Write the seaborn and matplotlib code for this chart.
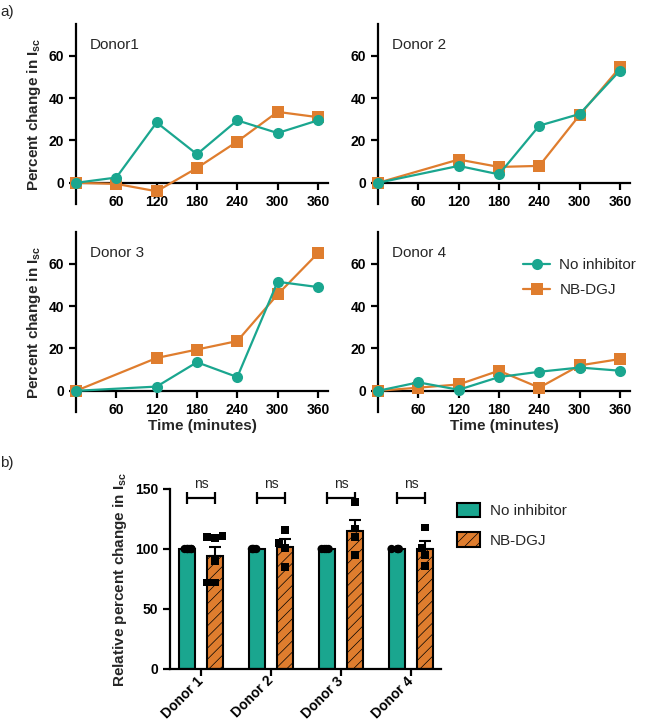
import numpy as np
import pandas as pd
import matplotlib
matplotlib.use("Agg")
import matplotlib.pyplot as plt
import seaborn as sns
from matplotlib.patches import Patch
from matplotlib.lines import Line2D

# ---------------- data ----------------
times = [0, 60, 120, 180, 240, 300, 360]
groups = ["No inhibitor", "NB-DGJ"]
donor_titles = ["Donor1", "Donor 2", "Donor 3", "Donor 4"]

d1_no = [0, 2.5, 28.5, 13.5, 29.5, 23.5, 29.5]
d1_nb = [0, -0.5, -4, 7, 19.5, 33.5, 31]
d2_no = [0, np.nan, 8, 4, 27, 32.5, 53]
d2_nb = [0, np.nan, 11, 7.5, 8, 32, 54.5]
d3_no = [0, np.nan, 2, 13.5, 6.5, 51.5, 49]
d3_nb = [0, np.nan, 15.5, 19.5, 23.5, 45.5, 65]
d4_no = [0, 4, 0.5, 6.5, 9, 11, 9.5]
d4_nb = [0, 1.5, 3, 9.5, 1.5, 12, 15]

bar_donors = ["Donor 1", "Donor 2", "Donor 3", "Donor 4"]
nb_points_d1 = [111, 109, 110, 90, 72, 72]
nb_points_d2 = [116, 105, 101, 85]
nb_points_d3 = [139, 117, 110, 95]
nb_points_d4 = [118, 101, 95, 86]
no_inhibitor_value = 100
sig_labels = ["ns", "ns", "ns", "ns"]

# ---------------- style ----------------
sns.set_theme(style="ticks")
plt.rcParams["font.family"] = ["Liberation Sans", "DejaVu Sans"]
plt.rcParams["mathtext.fontset"] = "custom"
plt.rcParams["mathtext.rm"] = "Liberation Sans"
plt.rcParams["mathtext.bf"] = "Liberation Sans:bold"
plt.rcParams["hatch.linewidth"] = 0.5

TEAL = "#1AA68F"
ORANGE = "#DF7D2E"
palette = {"No inhibitor": TEAL, "NB-DGJ": ORANGE}

fig = plt.figure(figsize=(6.5, 7.23), dpi=100)

W = 252 / 650
H = 180 / 723
positions = [
    (76 / 650, 1 - 204 / 723),
    (378 / 650, 1 - 204 / 723),
    (76 / 650, 1 - 412 / 723),
    (378 / 650, 1 - 412 / 723),
]
series = [(d1_no, d1_nb), (d2_no, d2_nb), (d3_no, d3_nb), (d4_no, d4_nb)]

ylab = r"Percent change in I$_\mathbf{sc}$"

axes = []
for i, ((no, nb), pos) in enumerate(zip(series, positions)):
    ax = fig.add_axes([pos[0], pos[1], W, H])
    axes.append(ax)
    df = pd.DataFrame({
        "time": times * 2,
        "value": list(no) + list(nb),
        "group": ["No inhibitor"] * len(times) + ["NB-DGJ"] * len(times),
    }).dropna()
    sns.lineplot(data=df, x="time", y="value", hue="group", style="group",
                 hue_order=groups, style_order=groups, palette=palette,
                 markers={"No inhibitor": "o", "NB-DGJ": "s"}, dashes=False,
                 markersize=8, markeredgewidth=0, linewidth=1.6, ax=ax,
                 legend=False, clip_on=False)
    for ln in ax.lines:
        c = matplotlib.colors.to_hex(ln.get_color())
        ln.set_zorder(4 if c.lower() == TEAL.lower() else 3)
        ln.set_clip_on(False)
    ax.set_xlim(0, 375)
    ax.set_ylim(-10, 75)
    ax.set_xticks([60, 120, 180, 240, 300, 360])
    ax.set_yticks([0, 20, 40, 60])
    ax.spines["top"].set_visible(False)
    ax.spines["right"].set_visible(False)
    ax.spines["bottom"].set_position(("data", 0))
    for s in ["left", "bottom"]:
        ax.spines[s].set_linewidth(1.6)
        ax.spines[s].set_color("black")
    ax.tick_params(axis="both", width=1.6, length=5, labelsize=10, colors="black")
    for lab in ax.get_xticklabels() + ax.get_yticklabels():
        lab.set_fontweight("bold")
    ax.text(21, 65, donor_titles[i], fontsize=11, va="center", ha="left")
    if i in (0, 2):
        ax.set_ylabel(ylab, fontsize=11, fontweight="bold", labelpad=4)
    else:
        ax.set_ylabel("")
    if i in (2, 3):
        ax.set_xlabel("Time (minutes)", fontsize=11, fontweight="bold", labelpad=2)
    else:
        ax.set_xlabel("")

handles = [
    Line2D([], [], color=TEAL, marker="o", markersize=8, linewidth=1.6, markeredgewidth=0),
    Line2D([], [], color=ORANGE, marker="s", markersize=8, linewidth=1.6, markeredgewidth=0),
]
axes[3].legend(handles, groups, loc="upper left", bbox_to_anchor=(0.52, 0.93),
               frameon=False, fontsize=11, handlelength=1.8, handletextpad=0.6,
               labelspacing=0.7)

fig.text(0.0, 1 - 12 / 723, "a)", fontsize=11, va="center", ha="left")
fig.text(0.0, 1 - 463 / 723, "b)", fontsize=11, va="center", ha="left")

# ---------------- bar chart ----------------
nb_lists = [nb_points_d1, nb_points_d2, nb_points_d3, nb_points_d4]
rows = []
for d, pts in zip(bar_donors, nb_lists):
    for v in pts:
        rows.append((d, "No inhibitor", no_inhibitor_value))
    for v in pts:
        rows.append((d, "NB-DGJ", v))
bdf = pd.DataFrame(rows, columns=["donor", "group", "value"])

axb = fig.add_axes([170 / 650, 1 - 669 / 723, 271 / 650, 180 / 723])
sns.barplot(data=bdf, x="donor", y="value", hue="group", hue_order=groups,
            order=bar_donors, palette=palette, errorbar=None, width=0.8, gap=0.4,
            saturation=1, edgecolor="black", linewidth=1.5, ax=axb, legend=False,
            zorder=2)
for p in axb.patches:
    fc = matplotlib.colors.to_hex(p.get_facecolor())
    if fc.lower() == ORANGE.lower():
        p.set_hatch("///")

for i, (d, pts) in enumerate(zip(bar_donors, nb_lists)):
    m = np.mean(pts)
    se = np.std(pts, ddof=1) / np.sqrt(len(pts))
    axb.errorbar(i + 0.2, m, yerr=[[0], [se]], color="black", capsize=4,
                 elinewidth=1.5, capthick=1.5, zorder=5)

np.random.seed(3)
sns.stripplot(data=bdf[bdf.group == "No inhibitor"], x="donor", y="value", hue="group",
              hue_order=groups, order=bar_donors, dodge=True,
              palette={g: "black" for g in groups}, jitter=0.16,
              marker="o", size=6, ax=axb, legend=False, zorder=6)
sns.swarmplot(data=bdf[bdf.group == "NB-DGJ"], x="donor", y="value", hue="group",
              hue_order=groups, order=bar_donors, dodge=True,
              palette={g: "black" for g in groups},
              marker="s", size=5.5, ax=axb, legend=False, zorder=6)

axb.set_xlim(-0.443, 3.43)
axb.set_ylim(0, 150)
axb.set_yticks([0, 50, 100, 150])
axb.spines["top"].set_visible(False)
axb.spines["right"].set_visible(False)
for s in ["left", "bottom"]:
    axb.spines[s].set_linewidth(1.6)
    axb.spines[s].set_color("black")
axb.tick_params(axis="both", width=1.6, length=5, labelsize=10, colors="black")
axb.tick_params(axis="x", pad=2)
axb.set_xticks(range(4))
axb.set_xticklabels(bar_donors, rotation=45, ha="right", va="center",
                    rotation_mode="anchor", fontweight="bold", fontsize=10)
for lab in axb.get_yticklabels():
    lab.set_fontweight("bold")
axb.set_xlabel("")
axb.set_ylabel(r"Relative percent change in I$_\mathbf{sc}$", fontsize=11,
               fontweight="bold", labelpad=4)

for i, s in enumerate(sig_labels):
    axb.plot([i - 0.2, i + 0.2], [142.5, 142.5], color="black", lw=1.6,
             marker="|", markersize=9, markeredgewidth=1.6, clip_on=False, zorder=7)
    axb.text(i, 148, s, ha="center", va="bottom", fontsize=10, clip_on=False)

bhandles = [
    Patch(facecolor=TEAL, edgecolor="black", linewidth=1.5),
    Patch(facecolor=ORANGE, edgecolor="black", linewidth=1.5, hatch="///"),
]
axb.legend(bhandles, groups, loc="upper left", bbox_to_anchor=(1.01, 1.0),
           frameon=False, fontsize=11, handlelength=1.5, handleheight=1.1,
           handletextpad=0.6, labelspacing=0.9)

fig.savefig("out.png", dpi=100)
